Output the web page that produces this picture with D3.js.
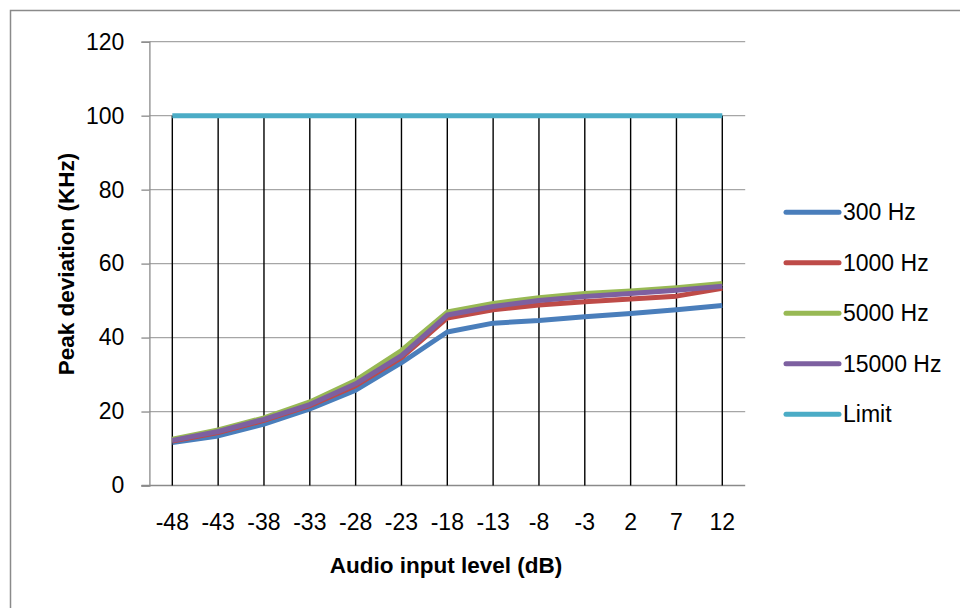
<!DOCTYPE html>
<html><head><meta charset="utf-8">
<script src="https://cdn.jsdelivr.net/npm/d3@7"></script>
<style>body{margin:0;background:#fff}svg{display:block}text{font-family:"Liberation Sans",Arial,sans-serif;fill:#000}</style>
</head><body><svg id="c" width="960" height="608"></svg>
<script>
const categories = ["-48","-43","-38","-33","-28","-23","-18","-13","-8","-3","2","7","12"];
const s300   = [11.6,13.4,16.6,20.7,25.8,33.2,41.5,43.9,44.6,45.6,46.5,47.5,48.7];
const s1000  = [12.0,14.3,17.6,21.6,27.0,34.6,45.3,47.5,48.8,49.7,50.4,51.2,53.3];
const s5000  = [12.5,15.0,18.3,22.6,28.4,36.5,46.9,49.2,50.8,51.9,52.6,53.5,54.6];
const s15000 = [12.2,14.6,17.9,21.9,27.5,35.1,46.1,48.4,50.0,51.1,51.9,52.8,53.9];
const limit  = [100,100,100,100,100,100,100,100,100,100,100,100,100];
const seriesNames = ["300 Hz","1000 Hz","5000 Hz","15000 Hz","Limit"];
const seriesColors = ["#4A7EBB","#BE4B48","#98B954","#7D60A0","#4BACC6"];
const yTicks = [0,20,40,60,80,100,120];

const svg = d3.select("#c");
const L = 149.4, R = 745.2, T = 41.7, B = 485.5;
const x = d3.scaleBand().domain(categories).range([L, R]);
const cx = c => x(c) + x.bandwidth()/2;
const y = d3.scaleLinear().domain([0,120]).range([B, T]);

// outer border
svg.append("path").attr("d","M10.5,620V10.5H980").attr("fill","none").attr("stroke","#8a8a8a").attr("stroke-width",1.5);

// gridlines
svg.append("g").selectAll("line").data(yTicks.filter(t=>t>0)).join("line")
  .attr("x1",L).attr("x2",R).attr("y1",d=>y(d)).attr("y2",d=>y(d))
  .attr("stroke","#a6a6a6").attr("stroke-width",1.3);

// y axis
const ya = svg.append("g").attr("transform",`translate(${L},0)`)
  .call(d3.axisLeft(y).tickValues(yTicks).tickSize(8).tickPadding(17));
ya.select(".domain").attr("stroke","#8a8a8a").attr("stroke-width",1.3);
ya.selectAll(".tick line").attr("stroke","#8a8a8a").attr("stroke-width",1.3);
ya.selectAll(".tick text").attr("font-size",23).attr("font-family","Liberation Sans, Arial, sans-serif").attr("fill","#000");

// x axis
const xa = svg.append("g").attr("transform",`translate(0,${B})`)
  .call(d3.axisBottom(x).tickSize(0).tickPadding(28));
xa.select(".domain").remove();
xa.selectAll(".tick text").attr("font-size",23).attr("font-family","Liberation Sans, Arial, sans-serif").attr("fill","#000");
svg.append("line").attr("x1",141.5).attr("x2",R).attr("y1",B).attr("y2",B).attr("stroke","#8a8a8a").attr("stroke-width",1.3);

// drop lines
svg.append("g").selectAll("line").data(categories).join("line")
  .attr("x1",d=>cx(d)).attr("x2",d=>cx(d)).attr("y1",(d,i)=>y(d3.max([s300[i],s1000[i],s5000[i],s15000[i],limit[i]]))).attr("y2",B)
  .attr("stroke","#000").attr("stroke-width",1.4);

// series
const all = [s300,s1000,s5000,s15000,limit];
const line = d3.line().x((d,i)=>cx(categories[i])).y(d=>y(d));
all.forEach((s,k)=>{
  svg.append("path").attr("d",line(s)).attr("fill","none")
    .attr("stroke",seriesColors[k]).attr("stroke-width",5).attr("stroke-linejoin","round").attr("stroke-linecap","butt");
});

// legend
const lg = svg.append("g");
seriesNames.forEach((n,k)=>{
  const yy = 212.3 + k*50.5;
  lg.append("line").attr("x1",786).attr("x2",839).attr("y1",yy).attr("y2",yy)
    .attr("stroke",seriesColors[k]).attr("stroke-width",5).attr("stroke-linecap","round");
  lg.append("text").attr("x",843).attr("y",yy).attr("dy","0.35em").attr("font-size",23).text(n);
});

// axis titles
svg.append("text").attr("x",446).attr("y",573).attr("text-anchor","middle").attr("font-size",22.5).attr("font-weight","bold").text("Audio input level (dB)");
svg.append("text").attr("transform","translate(74,264) rotate(-90)").attr("text-anchor","middle").attr("font-size",22.5).attr("font-weight","bold").text("Peak deviation (KHz)");
</script></body></html>
